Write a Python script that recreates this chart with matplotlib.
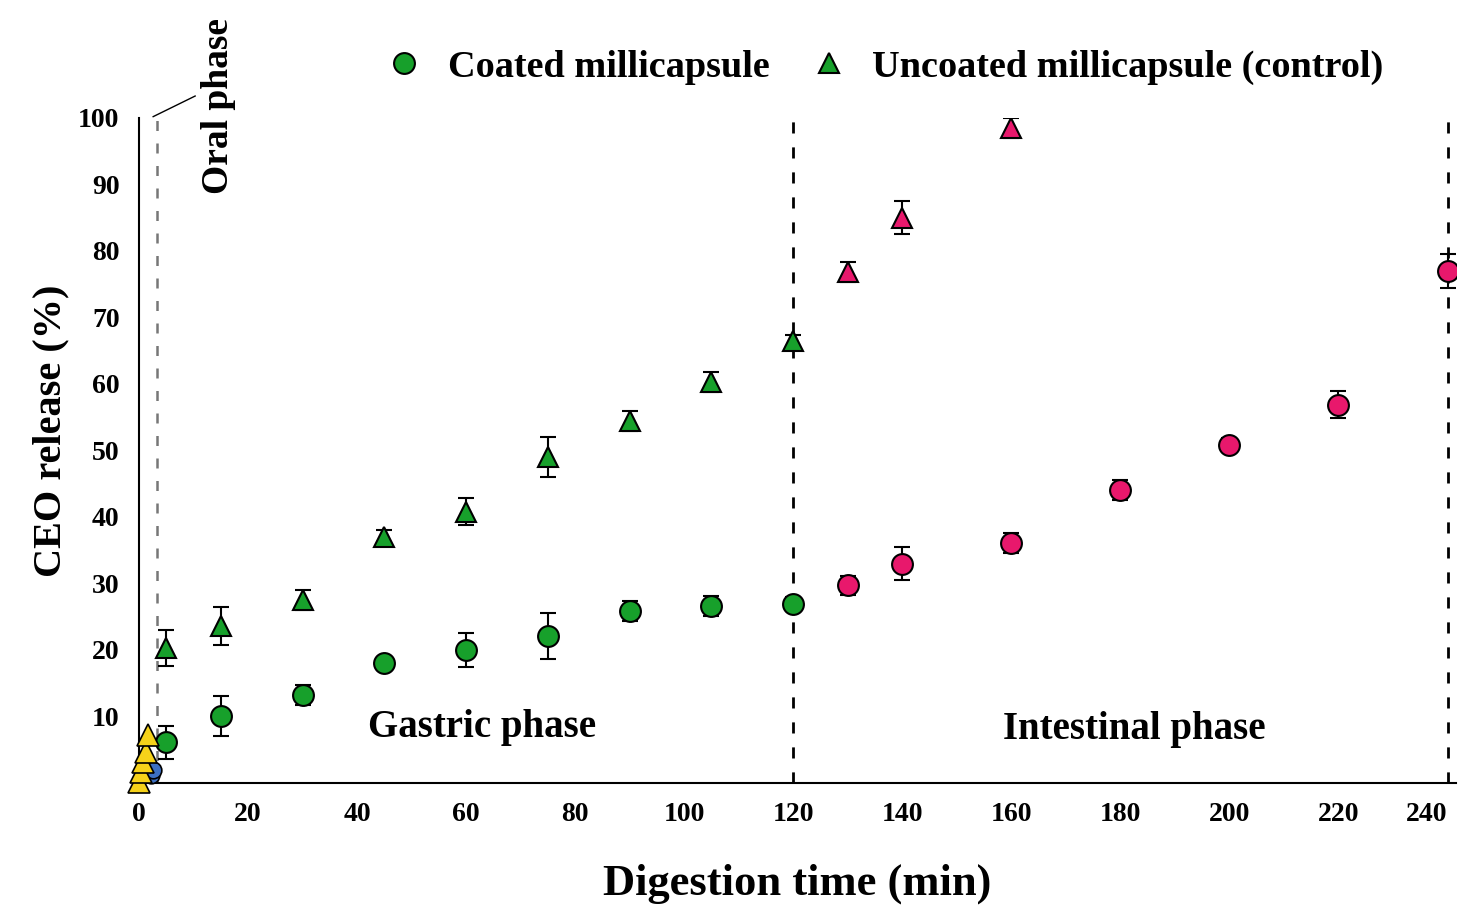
import matplotlib
matplotlib.use("Agg")
import matplotlib.pyplot as plt

plt.rcParams['font.family'] = ['Liberation Serif', 'DejaVu Serif']
plt.rcParams['font.weight'] = 'bold'

# oral phase (first minutes)
oral_tri_t = [0.0, 0.4, 0.8, 1.2, 1.7]
oral_tri_v = [0.2, 1.6, 3.1, 4.6, 7.2]
oral_circ_t = [2.2, 2.5]
oral_circ_v = [1.2, 2.0]

# gastric phase
gas_t = [5, 15, 30, 45, 60, 75, 90, 105, 120]
coated_gas = [6.1, 10.1, 13.3, 18.0, 20.0, 22.1, 25.8, 26.6, 26.9]
coated_gas_err = [2.5, 3.0, 1.5, 1.0, 2.5, 3.5, 1.5, 1.5, 1.0]
uncoated_gas = [20.3, 23.6, 27.5, 37.0, 40.8, 49.0, 54.4, 60.3, 66.4]
uncoated_gas_err = [2.7, 2.8, 1.5, 1.0, 2.0, 3.0, 1.5, 1.5, 1.0]

# intestinal phase
int_t_coated = [130, 140, 160, 180, 200, 220, 240]
coated_int = [29.7, 33.0, 36.1, 44.0, 50.9, 56.9, 77.0]
coated_int_err = [1.5, 2.5, 1.5, 1.5, 1.0, 2.0, 2.5]
int_t_uncoated = [130, 140, 160]
uncoated_int = [76.8, 85.0, 98.5]
uncoated_int_err = [1.5, 2.5, 1.5]

green = '#17a02b'
pink = '#e8186c'
yellow = '#f6d21a'
blue = '#3d70c2'

fig = plt.figure(figsize=(14.63, 9.11), dpi=100)
ax = fig.add_axes([0.095, 0.1405, 0.9, 0.73])

ebkw = dict(ecolor='black', elinewidth=1.5, capsize=6, capthick=1.5,
            linestyle='none', markeredgecolor='black', markeredgewidth=1.5,
            zorder=3)

ax.plot(oral_tri_t, oral_tri_v, '^', ms=16, color=yellow, mec='black',
        mew=1.2, clip_on=False, zorder=4)
ax.plot(oral_circ_t, oral_circ_v, 'o', ms=12, color=blue, mec='black',
        mew=1.2, clip_on=False, zorder=3)

ax.errorbar(gas_t, coated_gas, yerr=coated_gas_err, fmt='o', ms=15,
            color=green, label='Coated millicapsule', **ebkw)
ax.errorbar(gas_t, uncoated_gas, yerr=uncoated_gas_err, fmt='^', ms=15,
            color=green, label='Uncoated millicapsule (control)', **ebkw)
ax.errorbar(int_t_coated, coated_int, yerr=coated_int_err, fmt='o', ms=15,
            color=pink, **ebkw)
ax.errorbar(int_t_uncoated, uncoated_int, yerr=uncoated_int_err, fmt='^',
            ms=15, color=pink, **ebkw)

# phase boundaries
ax.plot([3.3, 3.3], [0, 100.5], ls=(0, (4, 5)), color='#777777', lw=1.8,
        clip_on=False, zorder=1)
ax.plot([120, 120], [0, 100.5], ls=(0, (4, 5)), color='black', lw=2,
        clip_on=False, zorder=1)
ax.plot([240, 240], [0, 100.5], ls=(0, (4, 5)), color='black', lw=2,
        clip_on=False, zorder=1)
ax.plot([2.6, 10.3], [100.2, 103.3], color='black', lw=1, clip_on=False)

ax.text(14.5, 101.8, 'Oral phase', rotation=90, ha='center', va='center',
        fontsize=27, fontweight='bold', clip_on=False)
ax.text(63, 8.4, 'Gastric phase', ha='center', va='center', fontsize=28,
        fontweight='bold')
ax.text(182.5, 8.0, 'Intestinal phase', ha='center', va='center',
        fontsize=28, fontweight='bold')

ax.set_xlim(0, 241.5)
ax.set_ylim(0, 100)
ax.set_xticks(range(0, 241, 20))
ax.set_yticks(range(10, 101, 10))
ax.tick_params(length=0, labelsize=20, pad=14)
for lab in ax.get_xticklabels() + ax.get_yticklabels():
    lab.set_fontweight('bold')
ax.get_xticklabels()[-1].set_horizontalalignment('right')
ax.spines['top'].set_visible(False)
ax.spines['right'].set_visible(False)
ax.spines['left'].set_linewidth(1.5)
ax.spines['bottom'].set_linewidth(1.5)

ax.set_xlabel('Digestion time (min)', fontsize=32, fontweight='bold',
              labelpad=26)
ax.set_ylabel('CEO release (%)', fontsize=29, fontweight='bold')
ax.yaxis.set_label_coords(-0.053, 0.53)

handles, labels = ax.get_legend_handles_labels()
handles = [h[0] for h in handles]
fig.legend(handles, labels, loc='center', bbox_to_anchor=(0.605, 0.926),
           ncol=2, frameon=False, markerscale=1.0,
           handlelength=0.9, handletextpad=0.7, columnspacing=1.1,
           prop=dict(size=27.5, weight='bold'))

fig.savefig('out.png', dpi=100)
